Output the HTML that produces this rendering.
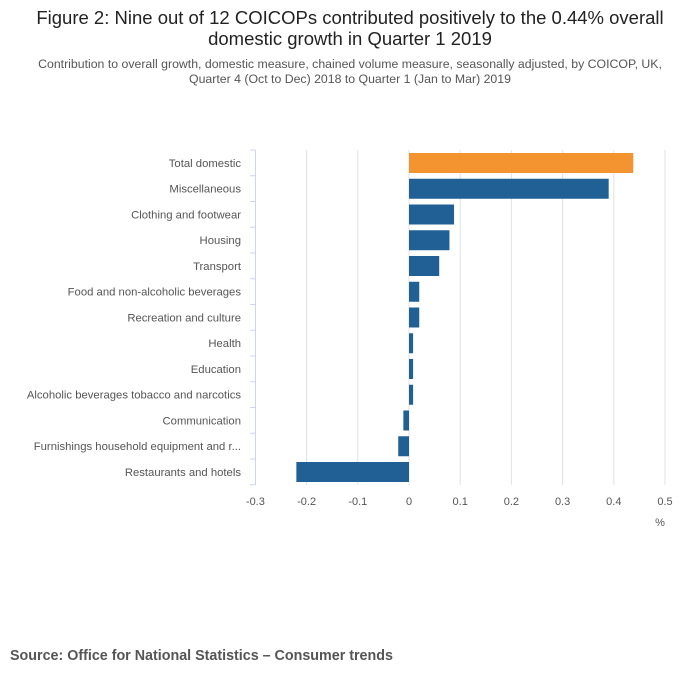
<!DOCTYPE html>
<html><head><meta charset="utf-8"><style>
body{margin:0;background:#fff;font-family:"Liberation Sans",sans-serif;}
#wrap{position:relative;width:700px;height:682px;overflow:hidden}
</style></head><body>
<div id="wrap">
<svg id="chart" width="700" height="682" xmlns="http://www.w3.org/2000/svg">
<text x="350" y="24" text-anchor="middle" font-size="18.5" fill="#222">Figure 2: Nine out of 12 COICOPs contributed positively to the 0.44% overall</text>
<text x="350" y="45" text-anchor="middle" font-size="18.5" fill="#222">domestic growth in Quarter 1 2019</text>
<text x="350" y="68" text-anchor="middle" font-size="12.3" fill="#555">Contribution to overall growth, domestic measure, chained volume measure, seasonally adjusted, by COICOP, UK,</text>
<text x="350" y="83" text-anchor="middle" font-size="12.3" fill="#555">Quarter 4 (Oct to Dec) 2018 to Quarter 1 (Jan to Mar) 2019</text>
<g id="grid"></g><g id="bars"></g><g id="labels"></g>
<text x="660" y="526" text-anchor="middle" font-size="11" fill="#555">%</text>
<text x="10" y="660" font-size="14.3" font-weight="bold" fill="#555">Source: Office for National Statistics – Consumer trends</text>
</svg>
</div>
<script>
const categories=["Total domestic","Miscellaneous","Clothing and footwear","Housing","Transport","Food and non-alcoholic beverages","Recreation and culture","Health","Education","Alcoholic beverages tobacco and narcotics","Communication","Furnishings household equipment and r...","Restaurants and hotels"];
const values=[0.438,0.39,0.088,0.079,0.059,0.02,0.02,0.008,0.008,0.008,-0.011,-0.021,-0.22];
const ticks=[-0.3,-0.2,-0.1,0,0.1,0.2,0.3,0.4,0.5];
const NS="http://www.w3.org/2000/svg";
const xs=v=>409+(v)*512;
const plotTop=150,rowH=25.75;
const ys=i=>plotTop+i*rowH;
function mk(t,a,p){const e=document.createElementNS(NS,t);for(const k in a)e.setAttribute(k,a[k]);p.appendChild(e);return e;}
const grid=document.getElementById('grid'),bars=document.getElementById('bars'),labels=document.getElementById('labels');
ticks.forEach(t=>{
 if(t!==-0.3){const l=mk('line',{x1:xs(t),x2:xs(t),y1:plotTop,y2:plotTop+rowH*categories.length,stroke:'#e2e2e2','stroke-width':1},grid);
 
 }
 const tx=mk('text',{x:xs(t),y:505,'text-anchor':'middle','font-size':11,fill:'#555'},labels);
 tx.textContent=String(t);
 
 
});
const ax=mk('line',{x1:255.5,x2:255.5,y1:plotTop,y2:plotTop+rowH*categories.length,stroke:'#ccd6eb'},grid);


for(let i=0;i<=categories.length;i++){
 const tk=mk('line',{x1:250,x2:255.5,y1:ys(i),y2:ys(i),stroke:'#ccd6eb'},grid);
 
 
}
categories.forEach((c,i)=>{
 const v=values[i];
 const r=mk('rect',{x:Math.min(xs(0),xs(v)),y:ys(i)+3,width:Math.abs(xs(v)-xs(0)),height:20,fill:i===0?'#f39431':'#206095'},bars);
 
 
 const t=mk('text',{x:241,y:ys(i)+rowH/2+4,'text-anchor':'end','font-size':11.3,fill:'#555'},labels);
 t.textContent=c;
 
 
});
</script>
</body></html>
